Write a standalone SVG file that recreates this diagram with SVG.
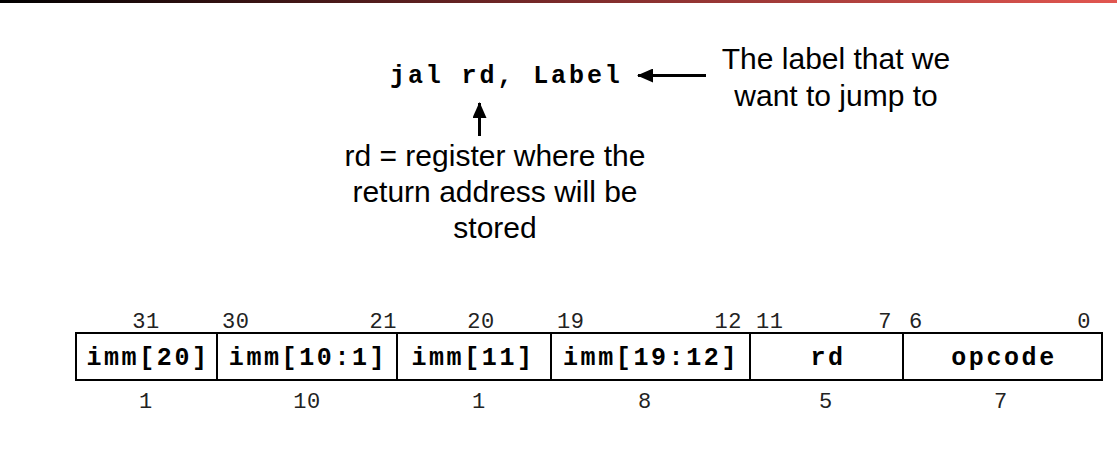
<svg xmlns="http://www.w3.org/2000/svg" width="1117" height="459" viewBox="0 0 1117 459">
<defs>
<linearGradient id="topbar" x1="0" y1="0" x2="1" y2="0">
<stop offset="0" stop-color="#000000"/>
<stop offset="0.5" stop-color="#7a2a2a"/>
<stop offset="1" stop-color="#e25650"/>
</linearGradient>
<marker id="ah" viewBox="0 0 16 14" refX="15" refY="7" markerWidth="16" markerHeight="14" markerUnits="userSpaceOnUse" orient="auto">
<path d="M0,0 L16,7 L0,14 Z" fill="#000"/>
</marker>
</defs>
<style>
.mono{font-family:"Liberation Mono","Courier New",monospace;}
.instr{font-size:25px;font-weight:bold;letter-spacing:2.9px;fill:#000;}
.field{font-size:25px;font-weight:bold;letter-spacing:2.6px;fill:#000;text-anchor:middle;}
.bit{font-size:22px;letter-spacing:0.6px;fill:#222;}
.sans{font-family:"Liberation Sans",Arial,sans-serif;font-size:30px;fill:#000;text-anchor:middle;}
.cell{fill:#fff;stroke:#000;stroke-width:2;}
.conn{stroke:#000;stroke-width:3;fill:none;}
</style>
<rect width="1117" height="459" fill="#fff"/>
<rect x="0" y="0" width="1117" height="3" fill="url(#topbar)"/>

<g id="instruction">
<text class="mono instr" x="390" y="83">jal rd, Label</text>
</g>
<g id="label-note">
<text class="sans" x="836" y="69">The label that we</text>
<text class="sans" x="836" y="106">want to jump to</text>
</g>
<g id="rd-note">
<text class="sans" x="495" y="166">rd = register where the</text>
<text class="sans" x="495" y="202">return address will be</text>
<text class="sans" x="495" y="238">stored</text>
</g>

<g id="connectors">
<line class="conn" x1="706" y1="75.5" x2="638" y2="75.5" marker-end="url(#ah)"/>
<line class="conn" x1="479.5" y1="136" x2="479.5" y2="103" marker-end="url(#ah)"/>
</g>

<g id="field-imm20">
<rect class="cell" x="76" y="333" width="141" height="47"/>
<text class="mono field" x="148" y="365">imm[20]</text>
<text class="mono bit" x="146" y="328" text-anchor="middle">31</text>
<text class="mono bit" x="146" y="408" text-anchor="middle">1</text>
</g>
<g id="field-imm10-1">
<rect class="cell" x="217" y="333" width="180" height="47"/>
<text class="mono field" x="308" y="365">imm[10:1]</text>
<text class="mono bit" x="222" y="328">30</text>
<text class="mono bit" x="397" y="328" text-anchor="end">21</text>
<text class="mono bit" x="307" y="408" text-anchor="middle">10</text>
</g>
<g id="field-imm11">
<rect class="cell" x="397" y="333" width="154" height="47"/>
<text class="mono field" x="473" y="365">imm[11]</text>
<text class="mono bit" x="481" y="328" text-anchor="middle">20</text>
<text class="mono bit" x="479" y="408" text-anchor="middle">1</text>
</g>
<g id="field-imm19-12">
<rect class="cell" x="551" y="333" width="199" height="47"/>
<text class="mono field" x="651" y="365">imm[19:12]</text>
<text class="mono bit" x="557" y="328">19</text>
<text class="mono bit" x="742" y="328" text-anchor="end">12</text>
<text class="mono bit" x="645" y="408" text-anchor="middle">8</text>
</g>
<g id="field-rd">
<rect class="cell" x="750" y="333" width="153" height="47"/>
<text class="mono field" x="828" y="365">rd</text>
<text class="mono bit" x="756" y="328">11</text>
<text class="mono bit" x="892" y="328" text-anchor="end">7</text>
<text class="mono bit" x="826" y="408" text-anchor="middle">5</text>
</g>
<g id="field-opcode">
<rect class="cell" x="903" y="333" width="199" height="47"/>
<text class="mono field" x="1004" y="365">opcode</text>
<text class="mono bit" x="909" y="328">6</text>
<text class="mono bit" x="1091" y="328" text-anchor="end">0</text>
<text class="mono bit" x="1001" y="408" text-anchor="middle">7</text>
</g>
</svg>
